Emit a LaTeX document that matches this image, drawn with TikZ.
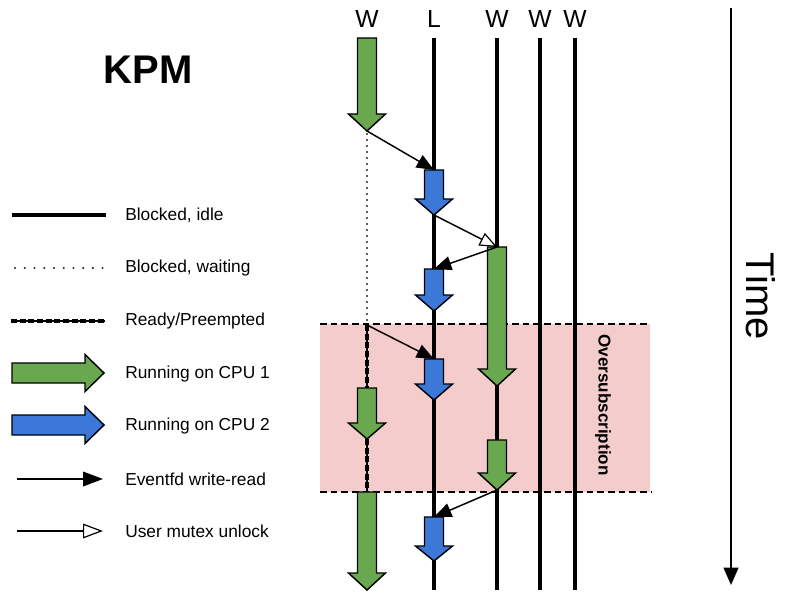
\documentclass[tikz,border=0pt]{standalone}
\usepackage{fontspec}
\setmainfont{Liberation Sans}
\usetikzlibrary{arrows.meta}
\definecolor{cpuone}{HTML}{6AA84F}
\definecolor{cputwo}{HTML}{3C78D8}
\definecolor{oversub}{HTML}{F4CCCC}
\tikzset{
  blockedge/.style={draw=black, line width=1.1pt, line join=miter},
  idle/.style={line width=3pt},
  waiting/.style={line width=1.7pt, line cap=round, dash pattern=on 0pt off 4.5pt, color=black!85},
  waitlegend/.style={line width=1.7pt, line cap=round, dash pattern=on 0pt off 7.3pt, color=black!85},
  readyline/.style={line width=1.3pt},
  readydash/.style={line width=3pt, dash pattern=on 4.5pt off 2pt},
  eventfd/.style={line width=1.1pt, -{Triangle[length=13pt,width=10.5pt]}},
  mutex/.style={line width=1.1pt, -{Triangle[open,length=13pt,width=10.5pt,line width=0.9pt]}},
  eventfdbig/.style={line width=1.1pt, -{Triangle[length=15pt,width=11pt]}},
  mutexbig/.style={line width=1.1pt, -{Triangle[open,length=15pt,width=11pt,line width=0.9pt]}},
  lbl/.style={anchor=west, inner sep=0pt, font=\fontsize{13}{15}\selectfont},
  colhead/.style={inner sep=0pt, font=\fontsize{18.5}{22}\selectfont},
  boundary/.style={line width=1.1pt, dash pattern=on 5pt off 3pt},
}
% downward running block: name, fill, x, top, head start, tip
\newcommand{\runblock}[6]{%
  \draw[blockedge, fill=#2] (#3-9.5,#4) -- (#3+9.5,#4) -- (#3+9.5,#5) -- (#3+18.5,#5)
    -- (#3,#6) -- (#3-18.5,#5) -- (#3-9.5,#5) -- cycle;
  \coordinate (#1-top) at (#3,#4);
  \coordinate (#1-tip) at (#3,#6);}
% rightward legend block: fill, y
\newcommand{\legendblock}[2]{%
  \draw[blockedge, fill=#1] (12,#2-10) -- (85,#2-10) -- (85,#2-18.5) -- (104,#2)
    -- (85,#2+18.5) -- (85,#2+10) -- (12,#2+10) -- cycle;}
\begin{document}
\begin{tikzpicture}[x=0.75pt, y=-0.75pt]
\useasboundingbox (0,0) rectangle (787,595);

% title
\node[font=\bfseries\fontsize{30}{34}\selectfont, inner sep=0pt] (title) at (148,70) {KPM};

% oversubscription window
\fill[oversub] (320,324) rectangle (650,492);
\draw[boundary] (320,324) -- (650,324);
\draw[boundary] (320,492) -- (652,492);
\node[rotate=-90, font=\bfseries\fontsize{12.8}{15}\selectfont, inner sep=0pt] (oversubtxt) at (603,405) {Oversubscription};

% thread columns
\node[colhead] (hw1) at (367,19) {W};
\node[colhead] (hl)  at (434,19) {L};
\node[colhead] (hw2) at (497,19) {W};
\node[colhead] (hw3) at (540,19) {W};
\node[colhead] (hw4) at (575,19) {W};

\draw[idle] (434,38) -- (434,590);
\draw[idle] (497,38) -- (497,590);
\draw[idle] (540,38) -- (540,590);
\draw[idle] (575,38) -- (575,590);

% waiting and ready states
\draw[waiting] (367,134) -- (367,325);
\foreach \a/\b/\c in {367/325/388, 367/439/492, 497/386/440}{
  \draw[readyline] (\a,\b) -- (\a,\c);
  \draw[readydash] (\a,\b) -- (\a,\c);
}

% running blocks
\runblock{wa}{cpuone}{367}{38}{114}{131}
\runblock{la}{cputwo}{434}{170}{199}{215}
\runblock{wb}{cpuone}{497}{247}{369}{386}
\runblock{lb}{cputwo}{434}{269}{295}{311}
\runblock{lc}{cputwo}{434}{359}{384}{400}
\runblock{wc}{cpuone}{367}{388}{423}{439}
\runblock{wd}{cpuone}{497}{440}{473}{490}
\runblock{ld}{cputwo}{434}{517}{546}{561}
\runblock{we}{cpuone}{367}{492}{573}{590}

% wake-ups
\coordinate (pre) at (367,325);
\draw[eventfd] (wa-tip) -- (la-top);
\draw[mutex]   (la-tip) -- (wb-top);
\draw[eventfd] (wb-top) -- (lb-top);
\draw[eventfd] (pre) -- (lc-top);
\draw[eventfd] (wd-tip) -- (ld-top);

% time axis
\coordinate (t0) at (731,8);
\coordinate (t1) at (731,585);
\draw[line width=1.6pt, -{Triangle[length=13pt,width=11pt]}] (t0) -- (t1);
\node[rotate=-90, font=\fontsize{30}{34}\selectfont, inner sep=0pt] (timelbl) at (761,296) {Time};

% legend
\draw[idle] (12,215) -- (106,215);
\node[lbl] (l1) at (125,215) {Blocked, idle};
\draw[waitlegend] (15,268) -- (105,268);
\node[lbl] (l2) at (125,268) {Blocked, waiting};
\draw[readyline] (11,321) -- (105,321);
\draw[readydash] (11,321) -- (105,321);
\node[lbl] (l3) at (125,321) {Ready/Preempted};
\legendblock{cpuone}{373}
\node[lbl] (l4) at (125,374) {Running on CPU 1};
\legendblock{cputwo}{425}
\node[lbl] (l5) at (125,426) {Running on CPU 2};
\coordinate (e0) at (17,479);
\coordinate (e1) at (103,479);
\draw[eventfdbig] (e0) -- (e1);
\node[lbl] (l6) at (125,479) {Eventfd write-read};
\coordinate (m0) at (17,531);
\coordinate (m1) at (103,531);
\draw[mutexbig] (m0) -- (m1);
\node[lbl] (l7) at (125,531) {User mutex unlock};
\end{tikzpicture}
\end{document}
